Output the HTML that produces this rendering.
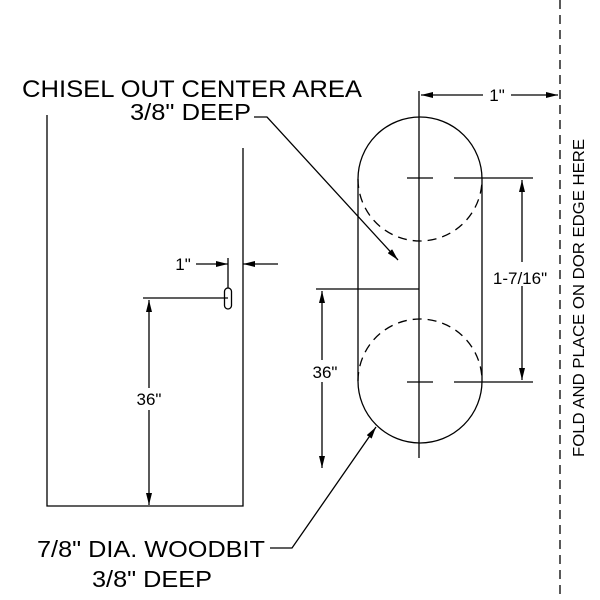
<!DOCTYPE html>
<html><head><meta charset="utf-8"><style>html,body{margin:0;padding:0;background:#fff}svg{display:block}</style></head>
<body>
<svg width="600" height="600" viewBox="0 0 600 600" xmlns="http://www.w3.org/2000/svg" font-family="Liberation Sans, Arial, sans-serif" fill="none" stroke="#000" stroke-width="1.3">
<defs>
<marker id="a" viewBox="0 0 12 6" refX="12" refY="3" markerWidth="12" markerHeight="6" orient="auto-start-reverse" markerUnits="userSpaceOnUse"><path d="M0,0 L12,3 L0,6 z" fill="#000" stroke="none"/></marker>
</defs>
<!-- door -->
<path d="M47,115 V506 H243 V148"/>
<rect x="224.5" y="288" width="7" height="21" rx="3.5"/>
<line x1="143" y1="298" x2="228" y2="298"/>
<line x1="149" y1="300" x2="149" y2="505" marker-start="url(#a)" marker-end="url(#a)"/>
<line x1="228" y1="258" x2="228" y2="288"/>
<line x1="196" y1="264" x2="228" y2="264" marker-end="url(#a)"/>
<line x1="278" y1="264" x2="243" y2="264" marker-end="url(#a)"/>
<!-- capsule -->
<path d="M358,179 A62,62 0 0 1 482,179 V381 A62,62 0 0 1 358,381 Z"/>
<path d="M358,179 A62,62 0 0 0 482,179" stroke-dasharray="9,6"/>
<path d="M358,381 A62,62 0 0 1 482,381" stroke-dasharray="9,6"/>
<line x1="419" y1="91" x2="419" y2="458"/>
<line x1="407" y1="178" x2="433" y2="178"/><line x1="454" y1="178" x2="533" y2="178"/>
<line x1="407" y1="382" x2="433" y2="382"/><line x1="454" y1="382" x2="533" y2="382"/>
<line x1="522" y1="180" x2="522" y2="380" marker-start="url(#a)" marker-end="url(#a)"/>
<line x1="421" y1="95" x2="558" y2="95" marker-start="url(#a)" marker-end="url(#a)"/>
<line x1="316" y1="289" x2="419" y2="289"/>
<line x1="322" y1="291" x2="322" y2="468" marker-start="url(#a)" marker-end="url(#a)"/>
<line x1="560" y1="0" x2="560" y2="600" stroke-dasharray="9,6"/>
<!-- leaders -->
<path d="M254,117 H267 L398,260" marker-end="url(#a)"/>
<path d="M270,548 H292 L376,427" marker-end="url(#a)"/>
<!-- text backgrounds -->
<rect x="485" y="262" width="70" height="24" fill="#fff" stroke="none"/>
<rect x="483" y="85" width="28" height="20" fill="#fff" stroke="none"/>
<rect x="305" y="360" width="40" height="22" fill="#fff" stroke="none"/>
<rect x="130" y="388" width="40" height="22" fill="#fff" stroke="none"/>
<g fill="#000" stroke="none">
<text x="22" y="97" font-size="24" textLength="340" lengthAdjust="spacingAndGlyphs">CHISEL OUT CENTER AREA</text>
<text x="130" y="120" font-size="23" textLength="121" lengthAdjust="spacingAndGlyphs">3/8" DEEP</text>
<text x="37" y="557" font-size="23" textLength="228" lengthAdjust="spacingAndGlyphs">7/8" DIA. WOODBIT</text>
<text x="92" y="587" font-size="23" textLength="120" lengthAdjust="spacingAndGlyphs">3/8" DEEP</text>
<text x="520" y="284" font-size="17" text-anchor="middle">1-7/16"</text>
<text x="497" y="101" font-size="17" text-anchor="middle">1"</text>
<text x="325" y="378" font-size="17" text-anchor="middle">36"</text>
<text x="149" y="405" font-size="17" text-anchor="middle">36"</text>
<text x="183" y="270" font-size="17" text-anchor="middle">1"</text>
<text x="0" y="0" font-size="16" text-anchor="middle" transform="translate(584,298) rotate(-90)" textLength="318" lengthAdjust="spacingAndGlyphs">FOLD AND PLACE ON DOR EDGE HERE</text>
</g>
</svg>
</body></html>
